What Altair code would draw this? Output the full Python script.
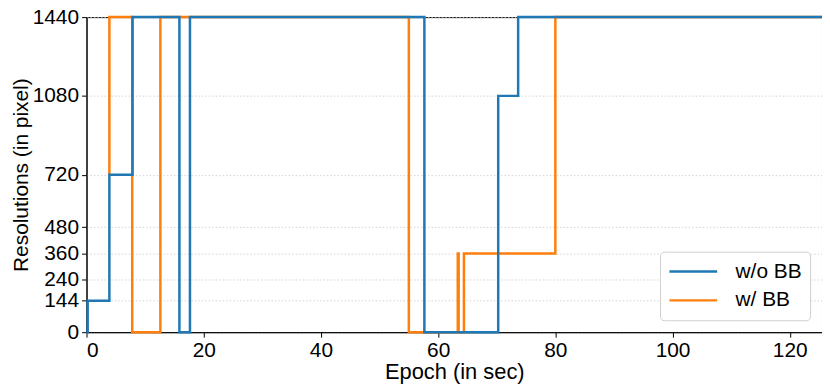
import altair as alt
import pandas as pd

# w/o BB (blue): change points (step-after)
wo_t = [0.0, 0.2, 3.9, 7.85, 15.85, 17.65, 57.65, 70.25, 73.65, 125.5]
wo_v = [0, 144, 720, 1440, 0, 1440, 0, 1080, 1440, 1440]

# w/ BB (orange): change points (step-after)
w_t = [3.9, 3.9, 7.8, 12.6, 55.0, 63.35, 63.5, 64.4, 80.0, 125.5]
w_v = [720, 1440, 0, 1440, 0, 360, 0, 360, 1440, 1440]

series = ["w/o BB\u2002", "\u00a0w/ BB\u2002"]
colors = ["#1f77b4", "#ff7f0e"]
y_ticks = [0, 144, 240, 360, 480, 720, 1080, 1440]
x_ticks = [0, 20, 40, 60, 80, 100, 120]

df_wo = pd.DataFrame({"t": wo_t, "v": wo_v, "s": series[0], "i": range(len(wo_t))})
df_w = pd.DataFrame({"t": w_t, "v": w_v, "s": series[1], "i": range(len(w_t))})

FONT = "Liberation Sans"

x = alt.X("t:Q", scale=alt.Scale(domain=[0, 125.5], nice=False, zero=False),
          axis=alt.Axis(title="Epoch (in sec)", values=x_ticks, grid=False, format="d"))
y = alt.Y("v:Q", scale=alt.Scale(domain=[0, 1440], nice=False),
          axis=alt.Axis(title="Resolutions (in pixel)", values=y_ticks, grid=True, format="d",
                        gridDash=[1.5, 2], gridColor="#c8c8c8", gridWidth=0.8,
                        titleX=-55, titleFontSize=21))
color = alt.Color("s:N", scale=alt.Scale(domain=series, range=colors),
                  legend=alt.Legend(title=None, orient="none", legendX=577, legendY=236,
                                    symbolType="stroke", symbolSize=2304, symbolStrokeWidth=2.5,
                                    labelFontSize=21, labelFont=FONT, labelOffset=17,
                                    padding=8, rowPadding=5, clipHeight=24, cornerRadius=4,
                                    strokeColor="#d0d0d0", fillColor="white",
                                    labelLimit=250))

base_orange = alt.Chart(df_w).mark_line(interpolate="step-after", strokeWidth=2.5).encode(
    x=x, y=y, color=color, order="i:Q")
base_blue = alt.Chart(df_wo).mark_line(interpolate="step-after", strokeWidth=2.5).encode(
    x=x, y=y, color=color, order="i:Q")

chart = alt.layer(base_orange, base_blue).properties(
    width=740, height=317,
    autosize=alt.AutoSizeParams(type="none"),
    padding={"left": 79, "top": 8, "right": 0, "bottom": 56},
).configure_view(
    stroke="black", strokeWidth=1
).configure_axis(
    labelFont=FONT, titleFont=FONT, labelFontSize=21, titleFontSize=22,
    titleFontWeight="normal", labelColor="black", titleColor="black",
    domainColor="black", tickColor="black", tickSize=5, labelPadding=2,
).configure_axisY(
    labelPadding=3
).configure_axisX(
    titlePadding=2
)

chart.save("out.html", embed_options={"renderer": "svg", "actions": False})
